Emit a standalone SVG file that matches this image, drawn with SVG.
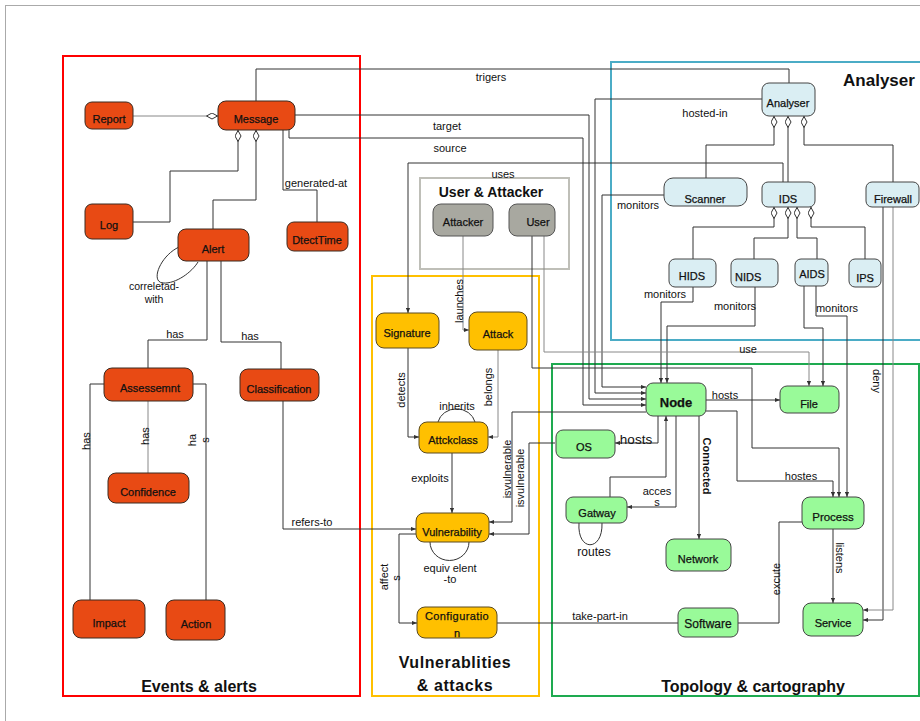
<svg xmlns="http://www.w3.org/2000/svg" width="920" height="721" viewBox="0 0 920 721">
<style>
text{font-family:"Liberation Sans",Arial,sans-serif;fill:#111}
.nt{font-size:11px;text-anchor:middle;stroke:#111;stroke-width:0.25}
.lb{font-size:11px;text-anchor:middle}
.rl{font-size:11px;text-anchor:middle;dominant-baseline:central}
.ttl{font-size:16px;font-weight:bold;text-anchor:middle}
.red rect{fill:#E84A14;stroke:#3b2a20;stroke-width:1}
.yel rect{fill:#FFC000;stroke:#5a4a20;stroke-width:1}
.blu rect{fill:#DAEEF3;stroke:#444;stroke-width:1}
.grn rect{fill:#99FA99;stroke:#444;stroke-width:1}
.gry rect{fill:#A8A8A0;stroke:#555;stroke-width:1}
.c path{fill:none;stroke:#333;stroke-width:1}
.c .g{stroke:#888}
.box{fill:none;stroke-width:2}
</style>
<defs>
<marker id="arr" viewBox="0 0 6 6" refX="6" refY="3" markerWidth="5" markerHeight="5" orient="auto" markerUnits="userSpaceOnUse"><path d="M0,0.5 L6,3 L0,5.5 z" fill="#333"/></marker>
<marker id="dia" viewBox="0 0 12 7" refX="0" refY="3.5" markerWidth="12" markerHeight="7" orient="auto" markerUnits="userSpaceOnUse"><path d="M0.5,3.5 L6,0.5 L11.5,3.5 L6,6.5 z" fill="#fff" stroke="#333" stroke-width="1"/></marker>
</defs>
<rect x="0" y="0" width="920" height="721" fill="#fff"/>
<rect x="5.5" y="5.5" width="1000" height="1000" fill="none" stroke="#aaa" stroke-width="1"/>

<!-- group boxes -->
<g id="groups">
<rect class="box" x="63" y="56" width="297" height="640" stroke="#FF0000"/>
<rect class="box" x="372" y="276" width="167" height="420" stroke="#FFC000"/>
<rect class="box" x="420" y="178" width="149" height="91" stroke="#BFBFB8"/>
<rect class="box" x="611" y="62" width="320" height="278" stroke="#4BACC6"/>
<rect class="box" x="552" y="364" width="367" height="332" stroke="#1EAA50"/>
<text class="ttl" x="199" y="692">Events &amp; alerts</text>
<text class="ttl" x="455" y="668" style="letter-spacing:0.6px">Vulnerablities</text>
<text class="ttl" x="455" y="691" style="letter-spacing:0.6px">&amp; attacks</text>
<text class="ttl" x="753" y="692">Topology &amp; cartography</text>
<text class="ttl" x="879" y="86" style="font-size:17px">Analyser</text>
<text class="ttl" x="491" y="197" style="font-size:14px">User &amp; Attacker</text>
</g>

<!-- connectors -->
<g id="connectors" class="c">
<path class="g" d="M218,116 H133" marker-start="url(#dia)"/>
<path d="M238,130 V171 H170 V222 H133" marker-start="url(#dia)"/>
<path d="M256,130 V200 H213 V229" marker-start="url(#dia)"/>
<path d="M283,130 V190 H317 V222"/>
<path d="M179,247 C160,256 150,282 163,283 C176,284 192,272 198,262"/>
<path d="M207,261 V340 H148 V368"/>
<path d="M221,261 V342 H281 V369"/>
<path d="M104,384 H90 V600"/>
<path class="g" d="M148,401 V473"/>
<path d="M193,384 H206 V600"/>
<path d="M283,401 V529 H416" marker-end="url(#arr)"/>
<path d="M256,101 V69 H789 V83"/>
<path d="M295,115 H589 V399 H646" marker-end="url(#arr)"/>
<path d="M289,130 V138 H583 V405 H646" marker-end="url(#arr)"/>
<path d="M762,99 H595 V393 H646" marker-end="url(#arr)"/>
<path d="M664,195 H602 V387 H646" marker-end="url(#arr)"/>
<path d="M783,182 V163 H408 V313" marker-end="url(#arr)"/>
<path d="M774,116 V145 H706 V178" marker-start="url(#dia)"/>
<path d="M788,116 V182" marker-start="url(#dia)"/>
<path d="M804,116 V145 H893 V182" marker-start="url(#dia)"/>
<path d="M774,207 V227 H693 V259" marker-start="url(#dia)"/>
<path d="M788,207 V238 H754 V259" marker-start="url(#dia)"/>
<path d="M797,207 V238 H817 V259" marker-start="url(#dia)"/>
<path d="M811,207 V227 H865 V259" marker-start="url(#dia)"/>
<path d="M693,287 V302 H661 V383" marker-end="url(#arr)"/>
<path d="M755,287 V326 H667 V383" marker-end="url(#arr)"/>
<path d="M804,286 V328 H823 V386" marker-end="url(#arr)"/>
<path d="M816,286 V316 H847 V497" marker-end="url(#arr)"/>
<path d="M883,207 V620 H863" marker-end="url(#arr)"/>
<path class="g" d="M893,207 V610 H863" marker-end="url(#arr)"/>
<path class="g" d="M463,236 V330 H469" marker-end="url(#arr)"/>
<path class="g" d="M544,236 V352 H809 V386" marker-end="url(#arr)"/>
<path d="M532,236 V368 H752 V448 H839 V497" marker-end="url(#arr)"/>
<path d="M408,348 V437 H419" marker-end="url(#arr)"/>
<path class="g" d="M498,350 V437 H488" marker-end="url(#arr)"/>
<path d="M438,422 A19,17 0 0 1 475,422"/>
<path d="M452,453 V513" marker-end="url(#arr)"/>
<path d="M430,542 A19,18 0 0 0 469,542"/>
<path d="M646,412 H512 V522 H489" marker-end="url(#arr)"/>
<path d="M555,443 H529 V534 H489" marker-end="url(#arr)"/>
<path d="M416,534 H399 V623 H417" marker-end="url(#arr)"/>
<path d="M497,623 H678"/>
<path d="M802,522 H779 V623 H738"/>
<path d="M833,529 V603" marker-end="url(#arr)"/>
<path d="M706,400 H780" marker-end="url(#arr)"/>
<path d="M706,411 H737 V481 H833 V497" marker-end="url(#arr)"/>
<path d="M658,416 V443 H615" marker-end="url(#arr)"/>
<path d="M610,497 V477 H666 V416" marker-end="url(#arr)"/>
<path d="M676,416 V507 H627" marker-end="url(#arr)"/>
<path d="M699,416 V539" marker-end="url(#arr)"/>
<path d="M579,523 C577,552 603,552 602,523"/>
</g>

<!-- connector labels -->
<g id="labels">
<text class="lb" x="175" y="338">has</text>
<text class="lb" x="250" y="340">has</text>
<text class="rl" transform="translate(86,441) rotate(-90)">has</text>
<text class="rl" transform="translate(145,436) rotate(-90)">has</text>
<text class="rl" transform="translate(192,440) rotate(-90)">ha</text>
<text class="rl" transform="translate(205,440) rotate(-90)">s</text>
<text class="lb" x="154" y="290" style="font-size:10.5px">correletad-</text>
<text class="lb" x="154" y="303" style="font-size:10.5px">with</text>
<text class="lb" x="316" y="187">generated-at</text>
<text class="lb" x="312" y="526">refers-to</text>
<text class="lb" x="491" y="81">trigers</text>
<text class="lb" x="447" y="130">target</text>
<text class="lb" x="450" y="152">source</text>
<text class="lb" x="503" y="178">uses</text>
<text class="lb" x="705" y="117">hosted-in</text>
<text class="lb" x="638" y="209">monitors</text>
<text class="lb" x="665" y="298">monitors</text>
<text class="lb" x="735" y="310">monitors</text>
<text class="lb" x="837" y="312">monitors</text>
<text class="lb" x="748" y="353">use</text>
<text class="rl" transform="translate(877,381) rotate(90)">deny</text>
<text class="lb" x="725" y="399">hosts</text>
<text class="lb" x="636" y="444" style="font-size:13.5px">hosts</text>
<text class="rl" transform="translate(707,466) rotate(90)" style="font-weight:bold">Connected</text>
<text class="lb" x="657" y="495">acces</text>
<text class="lb" x="657" y="506">s</text>
<text class="lb" x="594" y="556" style="font-size:12px">routes</text>
<text class="lb" x="801" y="480">hostes</text>
<text class="rl" transform="translate(840,558) rotate(90)">listens</text>
<text class="rl" transform="translate(776,579) rotate(-90)">excute</text>
<text class="lb" x="600" y="620">take-part-in</text>
<text class="rl" transform="translate(507,469) rotate(-90)">isvulnerable</text>
<text class="rl" transform="translate(520,478) rotate(-90)">isvulnerable</text>
<text class="rl" transform="translate(384,577) rotate(-90)">affect</text>
<text class="rl" transform="translate(396,578) rotate(-90)">s</text>
<text class="lb" x="450" y="572">equiv elent</text>
<text class="lb" x="450" y="583">-to</text>
<text class="lb" x="430" y="482">exploits</text>
<text class="lb" x="457" y="410">inherits</text>
<text class="rl" transform="translate(401,390) rotate(-90)">detects</text>
<text class="rl" transform="translate(488,387) rotate(-90)">belongs</text>
<text class="rl" transform="translate(459,301) rotate(-90)">launches</text>
</g>

<!-- nodes -->
<g id="report" class="red"><rect x="85" y="102" width="48" height="27" rx="7"/><text class="nt" x="109" y="123">Report</text></g>
<g id="message" class="red"><rect x="218" y="101" width="77" height="29" rx="8"/><text class="nt" x="256" y="123">Message</text></g>
<g id="log" class="red"><rect x="85" y="204" width="48" height="35" rx="7"/><text class="nt" x="109" y="229">Log</text></g>
<g id="alert" class="red"><rect x="178" y="229" width="71" height="32" rx="8"/><text class="nt" x="213" y="253">Alert</text></g>
<g id="dtecttime" class="red"><rect x="287" y="222" width="61" height="29" rx="7"/><text class="nt" x="317" y="244">DtectTime</text></g>
<g id="assessemnt" class="red"><rect x="104" y="368" width="89" height="33" rx="8"/><text class="nt" x="150" y="392">Assessemnt</text></g>
<g id="classification" class="red"><rect x="240" y="369" width="79" height="32" rx="8"/><text class="nt" x="279" y="393">Classification</text></g>
<g id="confidence" class="red"><rect x="108" y="473" width="81" height="30" rx="8"/><text class="nt" x="148" y="496">Confidence</text></g>
<g id="impact" class="red"><rect x="73" y="600" width="72" height="38" rx="8"/><text class="nt" x="109" y="627">Impact</text></g>
<g id="action" class="red"><rect x="166" y="600" width="59" height="40" rx="8"/><text class="nt" x="196" y="628">Action</text></g>

<g id="attacker" class="gry"><rect x="433" y="204" width="60" height="32" rx="8"/><text class="nt" x="463" y="226">Attacker</text></g>
<g id="user" class="gry"><rect x="509" y="204" width="46" height="32" rx="8"/><text class="nt" x="538" y="226">User</text></g>

<g id="signature" class="yel"><rect x="376" y="313" width="63" height="35" rx="8"/><text class="nt" x="407" y="337">Signature</text></g>
<g id="attack" class="yel"><rect x="469" y="312" width="58" height="38" rx="8"/><text class="nt" x="498" y="338">Attack</text></g>
<g id="attckclass" class="yel"><rect x="419" y="422" width="69" height="31" rx="8"/><text class="nt" x="453" y="444">Attckclass</text></g>
<g id="vulnerability" class="yel"><rect x="416" y="513" width="73" height="29" rx="8"/><text class="nt" x="452" y="536">Vulnerability</text></g>
<g id="configuration" class="yel"><rect x="417" y="607" width="80" height="31" rx="8"/><text class="nt" x="457" y="620" style="letter-spacing:0.4px">Configuratio</text><text class="nt" x="457" y="637">n</text></g>

<g id="analyser" class="blu"><rect x="762" y="83" width="53" height="33" rx="7"/><text class="nt" x="788" y="107">Analyser</text></g>
<g id="scanner" class="blu"><rect x="664" y="178" width="83" height="28" rx="9"/><text class="nt" x="705" y="203">Scanner</text></g>
<g id="ids" class="blu"><rect x="762" y="182" width="53" height="25" rx="6"/><text class="nt" x="788" y="203">IDS</text></g>
<g id="firewall" class="blu"><rect x="866" y="182" width="53" height="25" rx="6"/><text class="nt" x="893" y="203">Firewall</text></g>
<g id="hids" class="blu"><rect x="669" y="259" width="47" height="28" rx="6"/><text class="nt" x="692" y="280">HIDS</text></g>
<g id="nids" class="blu"><rect x="731" y="259" width="47" height="28" rx="6"/><text class="nt" x="735" y="281" style="text-anchor:start">NIDS</text></g>
<g id="aids" class="blu"><rect x="795" y="259" width="33" height="27" rx="6"/><text class="nt" x="812" y="278">AIDS</text></g>
<g id="ips" class="blu"><rect x="849" y="259" width="32" height="28" rx="6"/><text class="nt" x="865" y="282">IPS</text></g>

<g id="node" class="grn"><rect x="646" y="383" width="60" height="33" rx="7"/><text class="nt" x="676" y="407" style="font-size:13px;font-weight:bold">Node</text></g>
<g id="file" class="grn"><rect x="780" y="386" width="59" height="27" rx="7"/><text class="nt" x="809" y="408">File</text></g>
<g id="os" class="grn"><rect x="556" y="430" width="59" height="28" rx="7"/><text class="nt" x="584" y="451">OS</text></g>
<g id="gatway" class="grn"><rect x="566" y="497" width="61" height="26" rx="7"/><text class="nt" x="597" y="517">Gatway</text></g>
<g id="network" class="grn"><rect x="666" y="539" width="65" height="32" rx="8"/><text class="nt" x="698" y="563">Network</text></g>
<g id="process" class="grn"><rect x="802" y="497" width="62" height="32" rx="8"/><text class="nt" x="833" y="521" style="font-size:11.5px">Process</text></g>
<g id="software" class="grn"><rect x="678" y="608" width="60" height="29" rx="7"/><text class="nt" x="708" y="628" style="font-size:12px">Software</text></g>
<g id="service" class="grn"><rect x="803" y="603" width="60" height="33" rx="8"/><text class="nt" x="833" y="627">Service</text></g>
</svg>
